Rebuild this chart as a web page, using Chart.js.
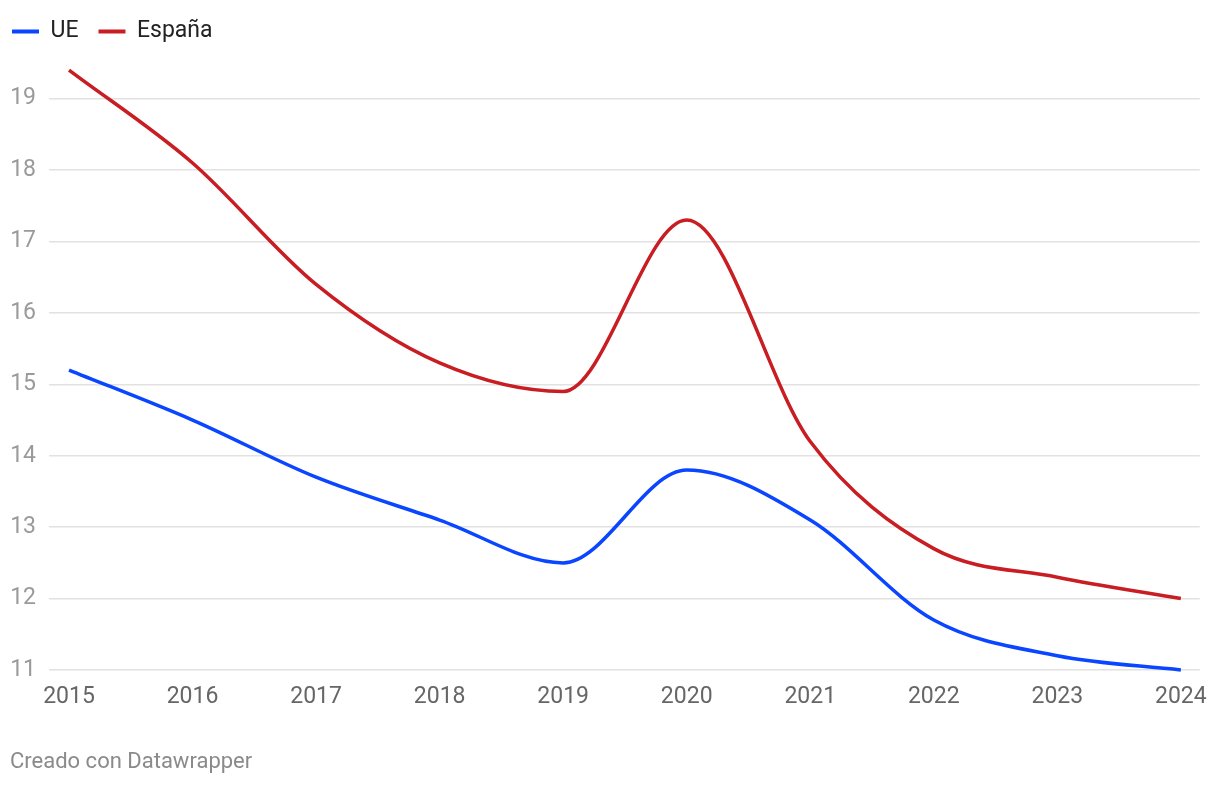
<!DOCTYPE html>
<html><head><meta charset="utf-8">
<script src="https://cdn.jsdelivr.net/npm/chart.js@4"></script>
<style>
html,body{margin:0;padding:0;background:#fff;}
#wrap{position:relative;width:1220px;height:786px;}
#note{position:absolute;left:10px;top:748px;font-family:Roboto,sans-serif;font-size:22px;color:#8a8a8a;}
</style></head>
<body>
<div id="wrap"><canvas id="c" width="1220" height="786"></canvas>
<div id="note">Creado con Datawrapper</div></div>
<script>
const years = [2015,2016,2017,2018,2019,2020,2021,2022,2023,2024];
const ue = [15.2,14.5,13.7,13.1,12.5,13.8,13.1,11.7,11.2,11.0];
const espana = [19.4,18.1,16.4,15.3,14.9,17.3,14.2,12.7,12.3,12.0];
const yTicks = [11,12,13,14,15,16,17,18,19];

const pts = arr => years.map((y,i)=>({x:y,y:arr[i]}));
const chart = new Chart(document.getElementById('c'),{
  type:'line',
  data:{datasets:[
    {label:'UE',data:pts(ue),borderColor:'#0a45ff',backgroundColor:'#0a45ff',borderWidth:3.5,pointRadius:0,cubicInterpolationMode:'monotone',clip:false},
    {label:'España',data:pts(espana),borderColor:'#c81d22',backgroundColor:'#c81d22',borderWidth:3.5,pointRadius:0,cubicInterpolationMode:'monotone',clip:false}
  ]},
  options:{
    responsive:false,animation:false,
    layout:{padding:{left:-8,right:18,top:0,bottom:76}},
    plugins:{
      legend:{position:'top',align:'start',labels:{boxWidth:27,boxHeight:4,padding:20,color:'#222',font:{family:'Roboto',size:23},
        generateLabels:ch=>Chart.defaults.plugins.legend.labels.generateLabels(ch).map(l=>Object.assign(l,{lineWidth:0}))}},
      tooltip:{enabled:false}
    },
    scales:{
      x:{type:'linear',min:2014.838,max:2024.153,
        afterFit:s=>{s.height=40;},
        grid:{display:false,drawTicks:false},border:{display:false},
        afterBuildTicks:s=>{s.ticks=years.map(v=>({value:v}));},
        ticks:{color:'#666',font:{family:'Roboto',size:23},padding:13,maxRotation:0,autoSkip:false,callback:v=>String(v)}},
      y:{min:11,max:19.64,
        afterFit:s=>{s.width=57;},
        afterBuildTicks:s=>{s.ticks=yTicks.map(v=>({value:v}));},
        grid:{color:'#e2e2e2',lineWidth:1.5,drawTicks:false},border:{display:false},
        ticks:{color:'#9a9a9a',crossAlign:'near',padding:13,font:{family:'Roboto',size:23},callback:v=>String(v)}}
    }
  }
});
</script>
</body></html>
